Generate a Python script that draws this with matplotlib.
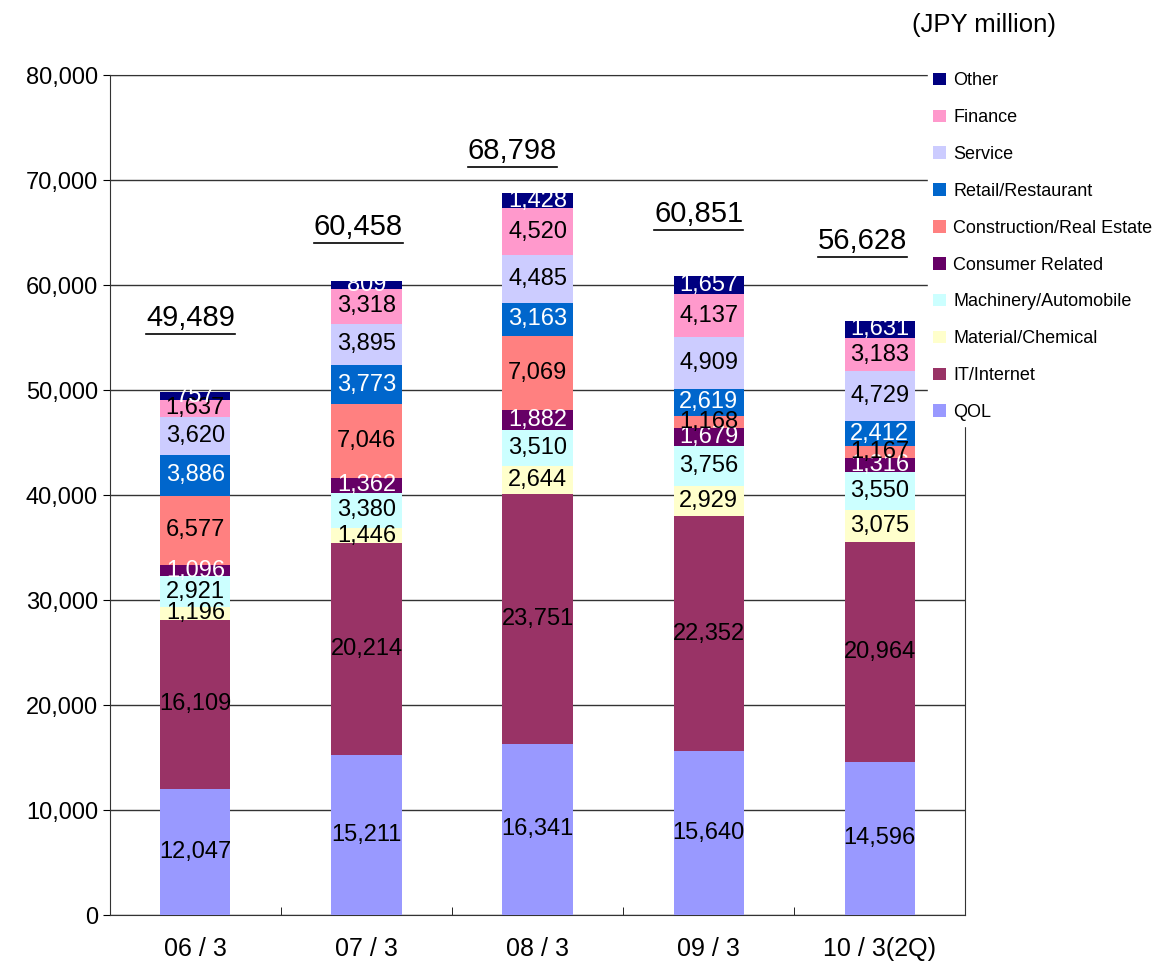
import matplotlib.pyplot as plt
from matplotlib.lines import Line2D
import numpy as np

plt.rcParams['font.family'] = ['Liberation Sans', 'DejaVu Sans']

periods = ['06 / 3', '07 / 3', '08 / 3', '09 / 3', '10 / 3(2Q)']
sectors = ['QOL', 'IT/Internet', 'Material/Chemical', 'Machinery/Automobile',
           'Consumer Related', 'Construction/Real Estate', 'Retail/Restaurant',
           'Service', 'Finance', 'Other']

qol = [12047, 15211, 16341, 15640, 14596]
it_internet = [16109, 20214, 23751, 22352, 20964]
material = [1196, 1446, 2644, 2929, 3075]
machinery = [2921, 3380, 3510, 3756, 3550]
consumer = [1096, 1362, 1882, 1679, 1316]
construction = [6577, 7046, 7069, 1168, 1167]
retail = [3886, 3773, 3163, 2619, 2412]
service = [3620, 3895, 4485, 4909, 4729]
finance = [1637, 3318, 4520, 4137, 3183]
other = [757, 809, 1428, 1657, 1631]

totals = [49489, 60458, 68798, 60851, 56628]

series = [qol, it_internet, material, machinery, consumer, construction,
          retail, service, finance, other]
colors = ['#9999FF', '#993366', '#FFFFCC', '#CCFFFF', '#660066', '#FF8080',
          '#0066CC', '#CCCCFF', '#FF99CC', '#000080']
text_colors = ['black', 'black', 'black', 'black', 'white', 'black',
               'white', 'black', 'black', 'white']
# offset (pixels) of the total label from the bar top
total_dx = [-5, -8, -25, -10, -17]
total_dy = [74, 54, 42, 62, 80]

fig = plt.figure(figsize=(11.56, 9.64), dpi=100)
ax = fig.add_axes([0.095, 0.0508, 0.74, 0.871])

x = np.arange(len(periods))
bottom = np.zeros(len(periods))
handles = []
for vals, col, tcol, name in zip(series, colors, text_colors, sectors):
    b = ax.bar(x, vals, width=0.41, bottom=bottom, color=col, label=name, zorder=3)
    handles.append(b)
    for xi, v, b0 in zip(x, vals, bottom):
        ax.text(xi, b0 + v / 2, f'{v:,}', ha='center', va='center',
                fontsize=17, color=tcol, zorder=4)
    bottom += np.array(vals)

total_texts = []
for xi, top, t, dx, dy in zip(x, bottom, totals, total_dx, total_dy):
    a = ax.annotate(f'{t:,}', (xi, top), xytext=(dx * 0.72, dy * 0.72),
                    textcoords='offset points', ha='center', va='center',
                    fontsize=21, zorder=5)
    total_texts.append(a)

ax.set_xlim(-0.5, 4.5)
ax.set_ylim(0, 80000)
ax.set_yticks(np.arange(0, 80001, 10000))
ax.set_yticklabels([f'{v:,}' for v in range(0, 80001, 10000)], fontsize=17)
ax.set_xticks(x)
ax.set_xticklabels(periods, fontsize=18)
ax.tick_params(axis='x', length=0, pad=16)
ax.set_xticks(np.arange(0.5, 4.5, 1), minor=True)
ax.tick_params(axis='x', which='minor', direction='in', length=6)
ax.tick_params(axis='y', direction='out', length=5)
ax.yaxis.grid(True, color='#333333', linewidth=1, zorder=0)
for s in ax.spines.values():
    s.set_color('#333333')

fig.text(0.789, 0.974, '(JPY million)', fontsize=18.5, ha='left', va='center')

leg = fig.legend(handles[::-1], sectors[::-1], loc='upper left',
                 bbox_to_anchor=(0.795, 0.94), frameon=True, fontsize=13,
                 handlelength=0.7, handleheight=0.7, labelspacing=1.1,
                 handletextpad=0.4, borderpad=0.3)
leg.get_frame().set_edgecolor('white')
leg.get_frame().set_alpha(1)
leg.set_zorder(10)

# underline the totals
fig.canvas.draw()
r = fig.canvas.get_renderer()
for a in total_texts:
    bb = a.get_window_extent(r)
    y0 = bb.y0 - 2
    fig.add_artist(Line2D([bb.x0, bb.x1], [y0, y0], transform=None,
                          color='black', linewidth=1.2))

fig.savefig('out.png', dpi=100)
